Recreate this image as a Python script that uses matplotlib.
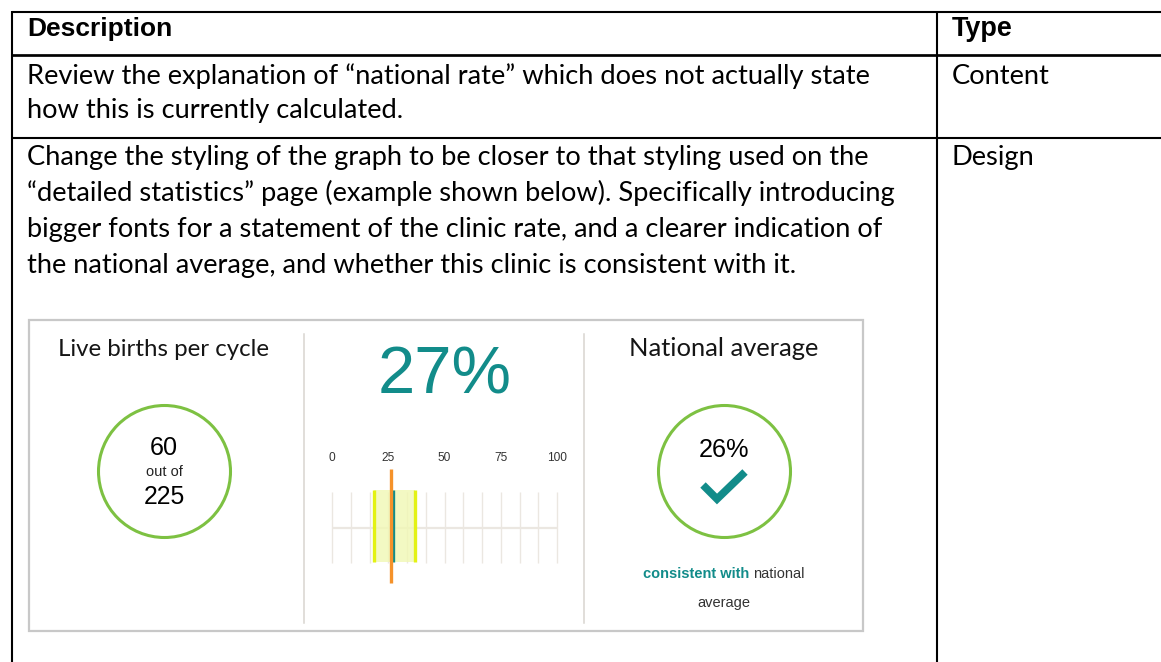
import numpy as np
import matplotlib
matplotlib.use("Agg")
import matplotlib.pyplot as plt
from matplotlib.patches import Circle, Rectangle

# ---------------- data ----------------
header_cols = ["Description", "Type"]
row1_desc = ["Review the explanation of \u201cnational rate\u201d which does not actually state",
             "how this is currently calculated."]
row1_type = "Content"
row2_desc = ["Change the styling of the graph to be closer to that styling used on the",
             "\u201cdetailed statistics\u201d page (example shown below). Specifically introducing",
             "bigger fonts for a statement of the clinic rate, and a clearer indication of",
             "the national average, and whether this clinic is consistent with it."]
row2_type = "Design"

left_title = "Live births per cycle"
right_title = "National average"
live_births = 60
cycles = 225
clinic_rate = 27
national_avg = 26
ci_low = 18.7
ci_high = 36.9
tick_values = [0, 25, 50, 75, 100]
tick_labels = ["0", "25", "50", "75", "100"]
verdict_bold = "consistent with"
verdict_rest = "national"
verdict_line2 = "average"

# ---------------- styles ----------------
W, H = 1161, 662
TEAL = "#128c8a"
GREEN = "#7dc142"
YEL_EDGE = "#e3f214"
YEL_FILL = "#f1f8b4"
ORANGE = "#f5922a"
GRID = "#ebe7e1"
BODY_FONT = "Lato"
NUM_FONT = "Liberation Sans"

fig = plt.figure(figsize=(W / 100, H / 100), dpi=100)
fig.patch.set_facecolor("white")
ax = fig.add_axes([0, 0, 1, 1])
ax.set_xlim(0, W)
ax.set_ylim(H, 0)
ax.axis("off")
renderer = fig.canvas.get_renderer()


def fit_text(x, y, s, width, ha="left", va="baseline", **kw):
    t = ax.text(x, y, s, ha=ha, va=va, fontsize=10, **kw)
    w = t.get_window_extent(renderer).width
    t.set_fontsize(10 * width / w)
    return t


def text_size(s, width, **kw):
    t = ax.text(0, 0, s, fontsize=10, **kw)
    w = t.get_window_extent(renderer).width
    t.remove()
    return 10 * width / w


# ---------------- table ----------------
lw_tab = 1.5
ax.plot([12, W], [12, 12], color="black", lw=lw_tab, solid_capstyle="butt")
ax.plot([12, W], [55, 55], color="black", lw=lw_tab * 1.3, solid_capstyle="butt")
ax.plot([12, W], [138, 138], color="black", lw=lw_tab, solid_capstyle="butt")
ax.plot([12, 12], [11.3, H], color="black", lw=lw_tab, solid_capstyle="butt")
ax.plot([937, 937], [11.3, H], color="black", lw=lw_tab, solid_capstyle="butt")

fit_text(27, 36, header_cols[0], 145, family=NUM_FONT, weight="bold", color="black")
fit_text(952, 36, header_cols[1], 61, family=NUM_FONT, weight="bold", color="black")

body_fs = text_size(row2_desc[1], 872, family=BODY_FONT)
for i, line in enumerate(row1_desc):
    ax.text(27, 84 + 34 * i, line, fontsize=body_fs, family=BODY_FONT, color="black", va="baseline")
ax.text(952, 84, row1_type, fontsize=body_fs, family=BODY_FONT, color="black", va="baseline")
for i, line in enumerate(row2_desc):
    ax.text(27, 165 + 36 * i, line, fontsize=body_fs, family=BODY_FONT, color="black", va="baseline")
ax.text(952, 165, row2_type, fontsize=body_fs, family=BODY_FONT, color="black", va="baseline")

# ---------------- infographic frame ----------------
ax.add_patch(Rectangle((29, 320), 834, 311, fill=False, edgecolor="#c8c8c8", lw=1.6))
for sx in (304, 584):
    ax.plot([sx, sx], [334, 623], color="#d8d5d0", lw=1.1)

# left panel
fit_text(164, 356, left_title, 211, ha="center", family=BODY_FONT, color="#151515")
ax.add_patch(Circle((164.5, 471.5), 66, fill=False, edgecolor=GREEN, lw=2.2))
fit_text(164, 455, str(live_births), 28, ha="center", family=NUM_FONT, color="black")
fit_text(164, 476, "out of", 37, ha="center", family=NUM_FONT, color="#222222")
fit_text(164, 504, str(cycles), 42, ha="center", family=NUM_FONT, color="black")

# middle panel
fit_text(445, 393, f"{clinic_rate}%", 135, ha="center", family=NUM_FONT, color=TEAL)

bx = fig.add_axes([332 / W, 1 - 588 / H, 225 / W, 122 / H])
bx.set_xlim(0, 100)
bx.set_ylim(588, 466)
bx.patch.set_alpha(0)
for s in bx.spines.values():
    s.set_visible(False)
bx.set_yticks([])
bx.xaxis.tick_top()
bx.set_xticks(tick_values)
bx.set_xticklabels(tick_labels)
bx.tick_params(axis="x", length=0, pad=1.5, labelsize=8.6, labelcolor="#333333")
for lab in bx.get_xticklabels():
    lab.set_family(NUM_FONT)
for gx in np.linspace(0, 100, 13):
    bx.vlines(gx, 492, 563, color=GRID, lw=1.0, clip_on=False, zorder=1)
bx.hlines(528, 0, 100, color=GRID, lw=1.6, zorder=1)
bx.fill_betweenx([490, 562], ci_low, ci_high, color=YEL_FILL, alpha=0.8, lw=0, zorder=2)
bx.vlines([ci_low, ci_high], 490, 562, color=YEL_EDGE, lw=2.4, zorder=3)
bx.vlines(clinic_rate, 490, 562, color=TEAL, lw=2.4, zorder=4)
bx.vlines(national_avg, 469, 583, color=ORANGE, lw=2.4, zorder=5, clip_on=False)

# right panel
fit_text(724, 356, right_title, 189, ha="center", family=BODY_FONT, color="#151515")
ax.add_patch(Circle((724.5, 471.5), 66, fill=False, edgecolor=GREEN, lw=2.2))
fit_text(724, 457, f"{national_avg}%", 51, ha="center", family=NUM_FONT, color="black")
ax.plot([703, 717, 745], [485, 499, 472], color=TEAL, lw=5.5, solid_capstyle="butt",
        solid_joinstyle="miter")

fs_v = text_size(verdict_bold + " " + verdict_rest, 167, family=NUM_FONT, weight="bold")
tb = ax.text(0, 578, verdict_bold + " ", fontsize=fs_v, family=NUM_FONT, weight="bold",
             color=TEAL, va="baseline")
tr = ax.text(0, 578, verdict_rest, fontsize=fs_v, family=NUM_FONT, color="#333333", va="baseline")
wb = tb.get_window_extent(renderer).width
wr = tr.get_window_extent(renderer).width
x0 = 724 - (wb + wr) / 2
tb.set_x(x0)
tr.set_x(x0 + wb)
ax.text(724, 607, verdict_line2, fontsize=fs_v, family=NUM_FONT, color="#333333",
        ha="center", va="baseline")

fig.savefig("out.png", dpi=100, facecolor="white")
